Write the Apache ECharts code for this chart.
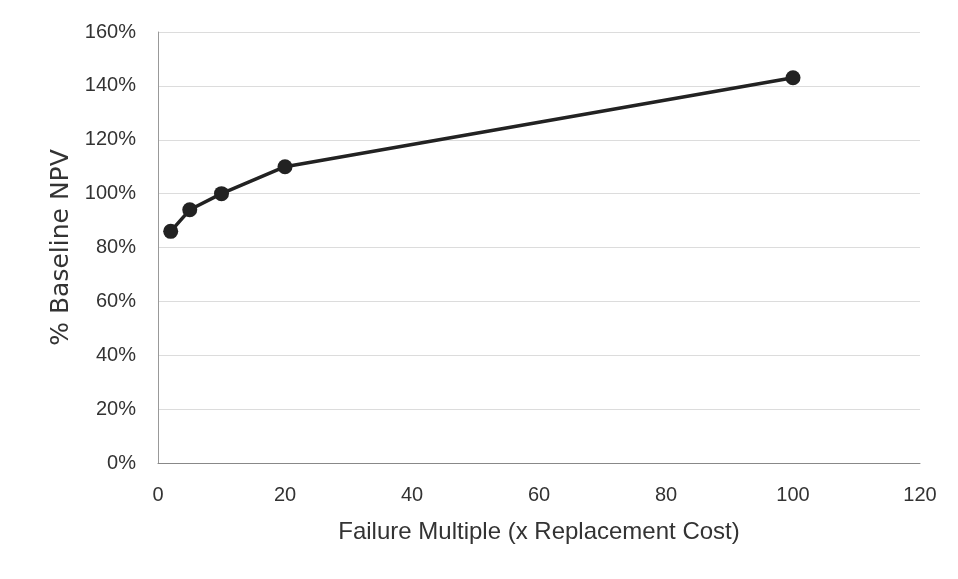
<!DOCTYPE html>
<html><head><meta charset="utf-8">
<script src="https://cdn.jsdelivr.net/npm/echarts@6/dist/echarts.min.js"></script>
<style>html,body{margin:0;padding:0;background:#fff}#c{width:958px;height:579px}</style>
</head><body><div id="c"></div>
<script>
const xValues = [2, 5, 10, 20, 100];
const npvPct = [86, 94, 100, 110, 143];
const yTicks = [0, 20, 40, 60, 80, 100, 120, 140, 160];
const xTicks = [0, 20, 40, 60, 80, 100, 120];

const chart = echarts.init(document.getElementById('c'));
const sans = '"Liberation Sans", sans-serif';
const wide = '"DejaVu Sans", sans-serif';
chart.setOption({
  animation: false,
  backgroundColor: '#fff',
  grid: {left: 158, right: 38, top: 32, bottom: 116, containLabel: false},
  xAxis: {
    type: 'value', min: xTicks[0], max: xTicks[xTicks.length - 1], interval: 20,
    name: 'Failure Multiple (x Replacement Cost)', nameLocation: 'middle', nameGap: 57,
    nameTextStyle: {fontFamily: sans, fontSize: 24, color: '#333'},
    axisLine: {show: true, lineStyle: {color: '#888', width: 1}},
    axisTick: {show: false},
    axisLabel: {fontFamily: sans, fontSize: 20, color: '#333', margin: 22},
    splitLine: {show: false}
  },
  yAxis: {
    type: 'value', min: yTicks[0], max: yTicks[yTicks.length - 1], interval: 20,
    name: '% Baseline NPV', nameLocation: 'middle', nameGap: 50,
    nameTextStyle: {fontFamily: wide, fontSize: 25, color: '#333'},
    axisLine: {show: true, lineStyle: {color: '#999', width: 1}},
    axisTick: {show: false},
    axisLabel: {fontFamily: sans, fontSize: 20, color: '#333', margin: 22, formatter: v => v + '%'},
    splitLine: {show: true, lineStyle: {color: '#dcdcdc', width: 1}}
  },
  series: [{
    type: 'line',
    data: xValues.map((x, i) => [x, npvPct[i]]),
    symbol: 'circle', symbolSize: 15,
    itemStyle: {color: '#222'},
    lineStyle: {color: '#222', width: 3.5}
  }]
});
</script></body></html>
